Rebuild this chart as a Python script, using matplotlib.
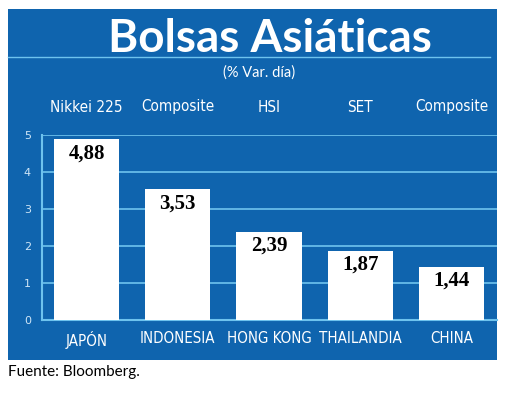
"""
Bolsas Asiaticas - bar chart recreation
"""
import matplotlib
matplotlib.use('Agg')
import matplotlib.pyplot as plt
import matplotlib.transforms as mtransforms
from matplotlib.patches import Rectangle
from matplotlib.lines import Line2D

# Data
countries = ['JAPÓN', 'INDONESIA', 'HONG KONG', 'THAILANDIA', 'CHINA']
indices = ['Nikkei 225', 'Composite', 'HSI', 'SET', 'Composite']
values = [4.88, 3.53, 2.39, 1.87, 1.44]
value_labels = ['4,88', '3,53', '2,39', '1,87', '1,44']
yticks = [0, 1, 2, 3, 4, 5]

BLUE = '#0f64ae'
LIGHT = '#6ec3ee'

W, H = 520, 397
fig = plt.figure(figsize=(W / 100, H / 100), dpi=100)

# Blue panel behind everything
fig.patches.append(Rectangle((8 / W, 1 - 360 / H), (497 - 8) / W, (360 - 9) / H,
                             transform=fig.transFigure, facecolor=BLUE,
                             edgecolor='none', zorder=-10))
# Divider under the title
fig.lines.append(Line2D([8 / W, 490 / W], [1 - 57 / H, 1 - 57 / H],
                        transform=fig.transFigure, color=LIGHT, linewidth=1))

fig.text(270 / W, 1 - 52 / H, 'Bolsas Asiáticas', color='white', fontsize=33,
         fontweight='bold', family='Lato', ha='center', va='baseline')
fig.text(259 / W, 1 - 73 / H, '(% Var. día)', color='white', fontsize=10.5,
         family='Lato', ha='center', va='center')
fig.text(8 / W, 1 - 372 / H, 'Fuente: Bloomberg.', color='black', fontsize=11,
         family='Lato', ha='left', va='center')

ax = fig.add_axes([42 / W, 1 - 320 / H, (497 - 42) / W, (320 - 135) / H])
ax.set_zorder(5)
ax.set_facecolor('none')
x = list(range(len(countries)))
ax.bar(x, values, width=0.714, color='white', zorder=3)
ax.set_xlim(-0.49, 4.5)
ax.set_ylim(0, 5)

ax.set_yticks(yticks)
ax.set_yticklabels([str(t) for t in yticks])
ax.grid(True, axis='y', color=LIGHT, linewidth=1.2, zorder=1)
ax.tick_params(axis='y', length=0, pad=8, labelsize=8, labelcolor='#cfe6f7')
ax.set_xticks(x)
ax.set_xticklabels(countries)
ax.tick_params(axis='x', length=0, pad=8, labelsize=10.8, labelcolor='white')
for lbl in ax.get_xticklabels():
    lbl.set_family('DejaVu Sans')
    lbl.set_fontstretch('condensed')

for side in ['top', 'right']:
    ax.spines[side].set_visible(False)
for side in ['left', 'bottom']:
    ax.spines[side].set_color(LIGHT)
    ax.spines[side].set_linewidth(1.5)

# Value labels inside bars
for xi, v, s in zip(x, values, value_labels):
    ax.annotate(s, (xi, v), xytext=(0, -3), textcoords='offset points',
                ha='center', va='top', fontsize=15, fontweight='bold',
                family='Liberation Serif', color='black', zorder=4)

# Index names above the bars
trans = mtransforms.blended_transform_factory(ax.transData, fig.transFigure)
for xi, name in zip(x, indices):
    ax.text(xi, 1 - 107 / H, name, transform=trans, ha='center', va='center',
            fontsize=11, color='white', family='DejaVu Sans',
            fontstretch='condensed', clip_on=False)

plt.savefig('out.png', dpi=100)
plt.close()
